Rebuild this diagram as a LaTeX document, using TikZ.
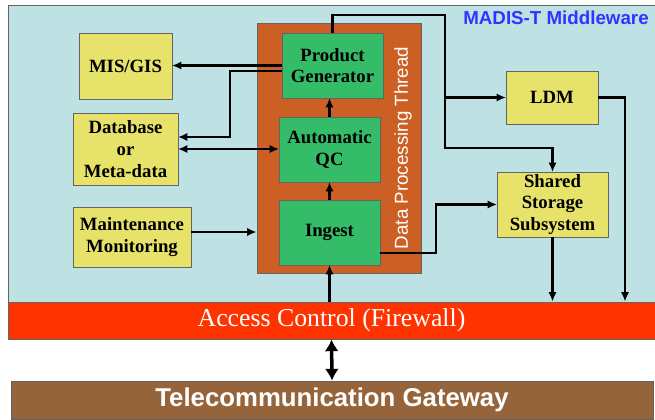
\documentclass[tikz,border=0pt]{standalone}
\usepackage{fontspec}
\setmainfont{Liberation Serif}
\setsansfont{Liberation Sans}
\usetikzlibrary{calc,arrows.meta}

\definecolor{panelblue}{RGB}{190,225,228}
\definecolor{boxyellow}{RGB}{230,226,106}
\definecolor{boxgreen}{RGB}{52,188,104}
\definecolor{threadorange}{RGB}{204,96,36}
\definecolor{fwred}{RGB}{255,51,0}
\definecolor{gwbrown}{RGB}{150,100,58}
\definecolor{titleblue}{RGB}{51,51,255}
\definecolor{edgegray}{RGB}{100,100,100}

\tikzset{
  box/.style={draw=edgegray, line width=0.8pt, inner sep=0pt, outer sep=0pt, align=center,
    font=\fontsize{16}{18.5}\selectfont\bfseries},
  ybox/.style={box, fill=boxyellow},
  gbox/.style={box, fill=boxgreen},
  arr/.style={line width=2.2pt, -{Latex[length=8pt,width=7pt]}},
  dblarr/.style={line width=2.2pt, {Latex[length=8pt,width=7pt]}-{Latex[length=8pt,width=7pt]}},
}

\begin{document}
\begin{tikzpicture}[x=0.03cm, y=-0.03cm]
		%%%%% START %%%%%
		\useasboundingbox (0, 0) rectangle (655, 419);
		
		% middleware panel
		\draw[fill=panelblue, draw=edgegray, line width=0.8pt] (8, 5) rectangle (655, 302);
		\node[font=\fontsize{16}{18}\selectfont\sffamily\bfseries, text=titleblue] (title) at (556, 18) {MADIS-T Middleware};
		
		% bars
		\node[draw=edgegray, line width=0.8pt, fill=fwred, minimum width=19.41cm, minimum height=1.11cm, inner sep=0pt,
		  text=white, font=\fontsize{22}{24}\selectfont] (fw) at (331.5, 320.5) {Access Control (Firewall)};
		\node[draw=edgegray, line width=0.8pt, fill=gwbrown, minimum width=19.26cm, minimum height=1.14cm, inner sep=0pt,
		  text=white, font=\fontsize{22}{24}\selectfont\sffamily\bfseries] (gw) at (332, 400) {Telecommunication Gateway};
		
		% processing thread
		\node[draw=edgegray, line width=0.8pt, fill=threadorange, minimum width=4.92cm, minimum height=7.5cm, inner sep=0pt] (dpt) at (339, 148) {};
		\node[rotate=90, text=white, font=\fontsize{16}{18}\selectfont\sffamily] (dptlabel) at (403, 148) {Data Processing Thread};
		
		\node[gbox, minimum width=3.03cm, minimum height=1.95cm] (pg) at (332.5, 65.5) {Product\\Generator};
		\node[gbox, minimum width=3.03cm, minimum height=1.95cm] (qc) at (329.5, 149.5) {Automatic\\QC};
		\node[gbox, minimum width=3.03cm, minimum height=1.95cm] (ingest) at (329.5, 232.5) {Ingest};
		
		% side boxes
		\node[ybox, minimum width=2.79cm, minimum height=1.98cm] (mis) at (125.5, 66) {MIS/GIS};
		\node[ybox, minimum width=3.15cm, minimum height=2.16cm] (db) at (125.5, 149) {Database\\or\\Meta-data};
		\node[ybox, minimum width=3.54cm, minimum height=1.8cm] (maint) at (132, 237) {Maintenance\\Monitoring};
		\node[ybox, minimum width=2.76cm, minimum height=1.59cm] (ldm) at (552, 97.5) {LDM};
		\node[ybox, minimum width=3.33cm, minimum height=1.95cm] (sss) at (552.5, 204.5) {Shared\\Storage\\Subsystem};
		
		% helper points
		\coordinate (pgdb) at ($(pg.west)+(0, 5.5)$);
		\coordinate (j1) at (230, 137);
		\coordinate (t1) at (445, 15);
		\coordinate (t2) at (445, 148);
		\coordinate (t3) at (625, 0);
		\coordinate (t4) at (436, 0);
		\coordinate (ie) at ($(ingest.east)+(0, 20.5)$);
		\coordinate (mm) at ($(maint.east)+(0, -5)$);
		
		% connectors
		\draw[arr] (pg.west) -- (pg.west -| mis.east);
		\draw[arr] (pgdb) -| (j1) -- (j1 -| db.east);
		\draw[dblarr] (db.east) -- (db.east -| qc.west);
		\draw[arr] (mm) -- (mm -| dpt.west);
		\draw[arr] (ingest.north) -- (ingest.north |- qc.south);
		\draw[arr] (qc.north) -- (qc.north |- pg.south);
		\draw[arr] (ingest.south |- fw.north) -- (ingest.south);
		
		\draw[arr] (pg.north) |- (t1) -- (t2) -| (sss.north);
		\draw[arr] (t2 |- ldm.west) -- (ldm.west);
		\draw[arr] (ldm.east) -| (t3 |- fw.north);
		\draw[arr] (sss.south) -- (sss.south |- fw.north);
		\draw[arr] (ie) -| (t4 |- sss.west) -- (sss.west);
		
		\draw[line width=3pt, {Latex[length=10pt,width=12pt]}-{Latex[length=10pt,width=12pt]}] (fw.south) -- (gw.north);
		%%%%% END %%%%%
\end{tikzpicture}
\end{document}
